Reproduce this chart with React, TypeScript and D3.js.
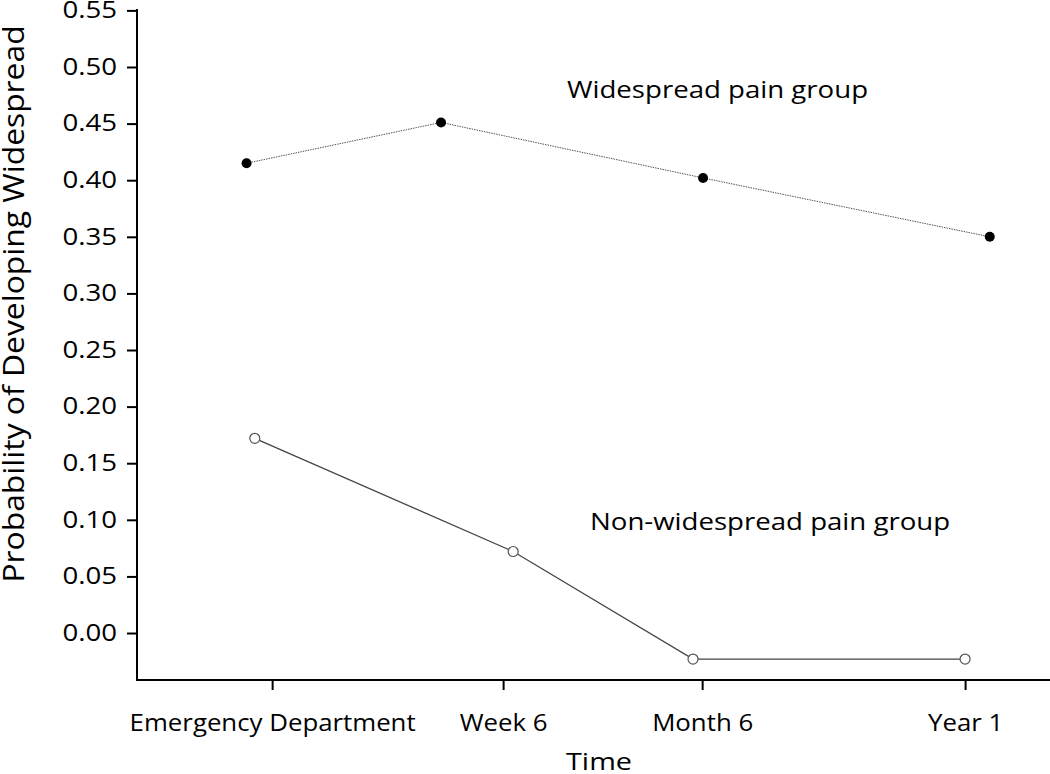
import React, { useEffect, useRef } from "react";
import * as d3 from "d3";

const timeLabels = ["Emergency Department", "Week 6", "Month 6", "Year 1"];
const tickPositions = [1.48, 4.01, 6.19, 9.07];
const yTicks = [0.0, 0.05, 0.1, 0.15, 0.2, 0.25, 0.3, 0.35, 0.4, 0.45, 0.5, 0.55];

const widespreadX = [1.2, 3.33, 6.2, 9.34];
const widespreadY = [0.415, 0.451, 0.402, 0.35];
const nonWidespreadX = [1.29, 4.12, 6.09, 9.07];
const nonWidespreadY = [0.172, 0.072, -0.023, -0.023];

const W = 1050;
const H = 774;
const FONT = "'Open Sans', sans-serif";

function stretch(sel: any, f: number) {
  sel.each(function (this: SVGTextElement) {
    const l = this.getComputedTextLength();
    d3.select(this).attr("textLength", l * f).attr("lengthAdjust", "spacingAndGlyphs");
  });
}

export default function App() {
  const ref = useRef<SVGSVGElement>(null);
  useEffect(() => {
    const svg = d3.select(ref.current);
    svg.selectAll("*").remove();
    const left = 137, right = 1050, top = 10, bottom = 680;
    const x = d3.scaleLinear().domain([0, 10]).range([left, right]);
    const y = d3.scaleLinear().domain([-0.0415, 0.55]).range([bottom, top + 0.4]);

    const yAxis = d3.axisLeft(y).tickValues(yTicks).tickFormat(d3.format(".2f")).tickSize(10).tickSizeOuter(0).tickPadding(10);
    const gy = svg.append("g").attr("transform", `translate(${left},0)`).call(yAxis);
    gy.select(".domain").attr("stroke", "#000").attr("stroke-width", 2).attr("d", `M0,${top - 1}V${bottom}`);
    gy.selectAll(".tick line").attr("stroke", "#000").attr("stroke-width", 2);
    gy.selectAll("text").attr("font-family", FONT).attr("font-size", 23).attr("fill", "#000");
    stretch(gy.selectAll("text"), 1.2);

    const xAxis = d3.axisBottom(x).tickValues(tickPositions).tickFormat((_, i) => timeLabels[i]).tickSize(10).tickSizeOuter(0).tickPadding(24);
    const gx = svg.append("g").attr("transform", `translate(0,${bottom})`).call(xAxis);
    gx.select(".domain").attr("stroke", "#000").attr("stroke-width", 2).attr("d", `M${left - 1},0H${right}`);
    gx.selectAll(".tick line").attr("stroke", "#000").attr("stroke-width", 2);
    gx.selectAll("text").attr("font-family", FONT).attr("font-size", 24).attr("fill", "#000");
    stretch(gx.selectAll("text"), 1.075);

    const line = d3.line<[number, number]>().x(d => x(d[0])).y(d => y(d[1]));
    const wData: [number, number][] = widespreadX.map((v, i) => [v, widespreadY[i]]);
    const nData: [number, number][] = nonWidespreadX.map((v, i) => [v, nonWidespreadY[i]]);

    svg.append("path").attr("d", line(wData)!).attr("fill", "none").attr("stroke", "#555").attr("stroke-width", 1).attr("stroke-dasharray", "1.5,1");
    svg.append("path").attr("d", line(nData)!).attr("fill", "none").attr("stroke", "#444").attr("stroke-width", 1.3);

    svg.selectAll(".wp").data(wData).enter().append("circle")
      .attr("cx", d => x(d[0])).attr("cy", d => y(d[1])).attr("r", 5).attr("fill", "#000");
    svg.selectAll(".np").data(nData).enter().append("circle")
      .attr("cx", d => x(d[0])).attr("cy", d => y(d[1])).attr("r", 5).attr("fill", "#fff").attr("stroke", "#555").attr("stroke-width", 1.2);

    const t1 = svg.append("text").attr("x", 567).attr("y", 98).attr("font-family", FONT).attr("font-size", 24).text("Widespread pain group");
    stretch(t1, 1.15);
    const t2 = svg.append("text").attr("x", 590).attr("y", 530).attr("font-family", FONT).attr("font-size", 24).text("Non-widespread pain group");
    stretch(t2, 1.15);
    const t3 = svg.append("text").attr("x", 599).attr("y", 770).attr("text-anchor", "middle").attr("font-family", FONT).attr("font-size", 24).text("Time");
    stretch(t3, 1.2);
    const t4 = svg.append("text").attr("transform", `translate(24,304) rotate(-90)`).attr("text-anchor", "middle").attr("font-family", FONT).attr("font-size", 30).text("Probability of Developing Widespread");
    stretch(t4, 1.06);
  }, []);
  return (
    <svg ref={ref} width={W} height={H} style={{ position: "absolute", left: 0, top: 0, background: "#fff" }} />
  );
}
